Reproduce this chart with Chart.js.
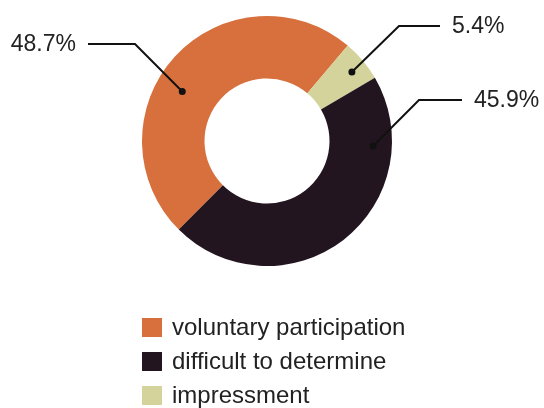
<!DOCTYPE html>
<html>
<head>
<meta charset="utf-8">
<script src="https://cdn.jsdelivr.net/npm/chart.js@4/dist/chart.umd.min.js"></script>
<style>
  html, body { margin: 0; padding: 0; background: #fff; }
  #wrap { position: relative; width: 544px; height: 408px; }
  #legend { position: absolute; left: 142px; top: 310px; font-family: "Liberation Sans", Arial, sans-serif;
            font-size: 24px; color: #222; }
  #legend div { height: 34px; line-height: 34px; display: flex; align-items: center; }
  #legend span.box { display: inline-block; width: 20px; height: 19px; margin-right: 10px; }
</style>
</head>
<body>
<div id="wrap">
  <canvas id="pie" width="544" height="408"></canvas>
  <div id="legend"></div>
</div>
<script>
const labels = ['voluntary participation', 'difficult to determine', 'impressment'];
const values = [48.7, 45.9, 5.4];
const pctText = ['48.7%', '45.9%', '5.4%'];
const colors = ['#d8703d', '#23151f', '#d3d39b'];

// slices go round clockwise as orange, light, dark
const drawOrder = [0, 2, 1];

// where each leader line starts on its slice and where it goes (relative to centre)
const leaders = [
  { t: 0.43, f: 0.57, elbow: [-132, -97], end: [-179, -97], align: 'right' },
  { t: 0.20, f: 0.70, elbow: [152, -41], end: [195, -41], align: 'left' },
  { t: 0.55, f: 0.75, elbow: [132, -115], end: [173, -115], align: 'left' }
];

const leaderPlugin = {
  id: 'leaders',
  afterDraw(chart) {
    const ctx = chart.ctx;
    const meta = chart.getDatasetMeta(0);
    drawOrder.forEach((cat, i) => {
      const arc = meta.data[i];
      const p = arc.getProps(['x', 'y', 'startAngle', 'endAngle', 'innerRadius', 'outerRadius'], true);
      const L = leaders[cat];
      const a = p.startAngle + L.t * (p.endAngle - p.startAngle);
      const r = p.innerRadius + L.f * (p.outerRadius - p.innerRadius);
      const dx = p.x + Math.cos(a) * r, dy = p.y + Math.sin(a) * r;
      const ex = p.x + L.elbow[0], ey = p.y + L.elbow[1];
      const tx = p.x + L.end[0], ty = p.y + L.end[1];
      ctx.save();
      ctx.strokeStyle = '#111';
      ctx.lineWidth = 2;
      ctx.beginPath();
      ctx.moveTo(dx, dy);
      ctx.lineTo(ex, ey);
      ctx.lineTo(tx, ty);
      ctx.stroke();
      ctx.fillStyle = '#111';
      ctx.beginPath();
      ctx.arc(dx, dy, 3.5, 0, Math.PI * 2);
      ctx.fill();
      ctx.font = '23px "Liberation Sans", Arial, sans-serif';
      ctx.fillStyle = '#222';
      ctx.textBaseline = 'middle';
      ctx.textAlign = L.align;
      ctx.fillText(pctText[cat], L.align === 'right' ? tx - 12 : tx + 12, ty + 1);
      ctx.restore();
    });
  }
};

new Chart(document.getElementById('pie'), {
  type: 'doughnut',
  data: {
    labels: drawOrder.map(i => labels[i]),
    datasets: [{
      data: drawOrder.map(i => values[i]),
      backgroundColor: drawOrder.map(i => colors[i]),
      borderWidth: 0
    }]
  },
  options: {
    responsive: false,
    animation: false,
    rotation: 224.9,
    cutout: '50%',
    layout: { padding: { left: 142, right: 152, top: 16, bottom: 142 } },
    plugins: { legend: { display: false }, tooltip: { enabled: false } }
  },
  plugins: [leaderPlugin]
});

const legend = document.getElementById('legend');
labels.forEach((lab, i) => {
  const row = document.createElement('div');
  row.innerHTML = '<span class="box" style="background:' + colors[i] + '"></span>' + lab;
  legend.appendChild(row);
});
</script>
</body>
</html>
